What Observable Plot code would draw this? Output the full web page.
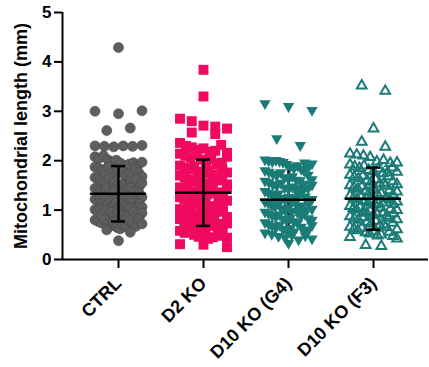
<!DOCTYPE html>
<html><head><meta charset="utf-8">
<script src="https://cdn.jsdelivr.net/npm/d3@7"></script>
<script src="https://cdn.jsdelivr.net/npm/@observablehq/plot@0.6"></script>
<style>
body{margin:0;background:#fff}
svg{font-family:"Liberation Sans",Arial,sans-serif;font-weight:bold}
</style>
</head><body><div id="chart"></div>
<script>
const categories = ["CTRL", "D2 KO", "D10 KO (G4)", "D10 KO (F3)"];
const ctrl = [4.29, 3.00, 2.95, 3.01, 2.61, 2.66, 2.30, 2.29, 2.28, 2.30, 2.29, 2.31, 2.08, 2.05, 2.10, 2.02,
  1.98, 2.01, 1.95, 1.90, 1.93, 1.87, 1.85, 1.96, 1.82, 1.79, 1.88, 1.75, 1.72, 1.80, 1.77, 1.69, 1.66, 1.74,
  1.63, 1.61, 1.70, 1.58, 1.55, 1.64, 1.52, 1.57, 1.49, 1.47, 1.53, 1.44, 1.50, 1.41, 1.39, 1.46, 1.36, 1.43,
  1.33, 1.30, 1.38, 1.28, 1.35, 1.25, 1.31, 1.22, 1.27, 1.19, 1.24, 1.16, 1.21, 1.13, 1.18, 1.10, 1.14, 1.07,
  1.11, 1.04, 1.08, 1.01, 1.05, 0.98, 1.02, 0.95, 0.99, 0.92, 0.96, 0.89, 0.93, 0.86, 0.90, 0.83, 0.80, 0.87,
  0.77, 0.74, 0.81, 0.71, 0.68, 0.76, 0.65, 0.62, 0.70, 0.60, 0.66, 0.55, 0.38,
  1.91, 1.84, 1.76, 1.68, 1.59, 1.51, 1.45, 1.37, 1.29, 1.23, 1.15, 1.09, 1.03, 0.97, 0.91, 0.85, 0.79, 0.73,
  0.67, 1.97, 1.62, 1.34, 1.12, 0.94, 0.82, 1.48, 1.26, 1.06, 0.72, 1.55];
const d2ko = [3.84, 3.30, 2.85, 2.80, 2.71, 2.69, 2.65, 2.57, 2.54, 2.36, 2.30, 2.27, 2.22, 2.25, 2.18, 2.14,
  2.20, 2.10, 2.06, 2.12, 2.02, 1.98, 2.04, 1.94, 1.90, 1.96, 1.86, 1.82, 1.88, 1.78, 1.74, 1.80, 1.70, 1.66,
  1.72, 1.62, 1.58, 1.64, 1.54, 1.50, 1.56, 1.46, 1.42, 1.48, 1.38, 1.34, 1.40, 1.30, 1.26, 1.32, 1.22, 1.18,
  1.24, 1.14, 1.10, 1.16, 1.06, 1.02, 1.08, 0.98, 0.94, 1.00, 0.90, 0.86, 0.92, 0.82, 0.78, 0.84, 0.74, 0.70,
  0.76, 0.66, 0.62, 0.68, 0.58, 0.54, 0.60, 0.50, 0.46, 0.52, 0.42, 0.45, 0.31, 0.30, 0.25, 1.45, 1.20, 0.88,
  1.60, 1.35,
  2.32, 2.16, 1.92, 1.84, 1.68, 1.52, 1.36, 1.28, 1.12, 0.96, 0.80, 0.72, 0.64, 0.56, 0.48, 0.44, 1.04, 1.76,
  2.08, 0.97, 1.19, 1.43, 0.73, 0.86];
const g4 = [3.16, 3.10, 3.02, 2.45, 2.31, 2.02, 2.00, 1.98, 2.01, 1.99, 1.97, 1.93, 1.88, 1.85, 1.90, 1.80,
  1.77, 1.83, 1.73, 1.70, 1.76, 1.66, 1.63, 1.68, 1.59, 1.56, 1.61, 1.52, 1.49, 1.55, 1.45, 1.42, 1.47, 1.38,
  1.35, 1.40, 1.31, 1.28, 1.33, 1.24, 1.21, 1.26, 1.17, 1.14, 1.19, 1.10, 1.07, 1.12, 1.03, 1.00, 1.05, 0.96,
  0.93, 0.98, 0.89, 0.86, 0.91, 0.82, 0.79, 0.84, 0.75, 0.72, 0.77, 0.68, 0.65, 0.70, 0.61, 0.58, 0.63, 0.54,
  0.51, 0.56, 0.47, 0.44, 0.49, 0.40, 0.33, 1.15, 1.25, 0.95, 1.30, 1.08, 0.88, 1.45, 1.60,
  1.96, 1.87, 1.79, 1.71, 1.62, 1.53, 1.44, 1.36, 1.27, 1.18, 1.09, 1.01, 0.92, 0.83, 0.74, 0.66, 0.57, 0.48,
  0.42, 1.94, 1.51, 1.13, 0.80, 0.60, 1.22, 1.02, 0.69];
const f3 = [3.52, 3.41, 2.65, 2.38, 2.28, 2.14, 2.12, 2.10, 2.07, 1.98, 2.01, 1.95, 1.92, 1.88, 1.85, 1.90,
  1.81, 1.78, 1.84, 1.74, 1.71, 1.76, 1.67, 1.64, 1.69, 1.60, 1.57, 1.62, 1.53, 1.50, 1.55, 1.46, 1.43, 1.48,
  1.39, 1.36, 1.41, 1.32, 1.29, 1.34, 1.25, 1.22, 1.27, 1.18, 1.15, 1.20, 1.11, 1.08, 1.13, 1.04, 1.01, 1.06,
  0.97, 0.94, 0.99, 0.90, 0.87, 0.92, 0.83, 0.80, 0.85, 0.76, 0.73, 0.78, 0.69, 0.66, 0.71, 0.62, 0.59, 0.64,
  0.55, 0.52, 0.57, 0.48, 0.45, 0.50, 0.29, 0.27, 1.05, 0.95, 1.15, 0.88, 1.24,
  1.96, 1.86, 1.77, 1.68, 1.58, 1.49, 1.40, 1.31, 1.21, 1.12, 1.02, 0.93, 0.84, 0.74, 0.65, 0.56, 0.47, 0.42,
  1.52, 1.17, 0.81, 0.61, 1.37, 1.00];
const means = [1.33, 1.35, 1.21, 1.23];
const sds = [0.56, 0.67, 0.60, 0.63];
const yTicks = [0, 1, 2, 3, 4, 5];
const yLabel = "Mitochondrial length (mm)";

// deterministic scatter layout (GraphPad-like column scatter)
const PX = 85;            // pixels per category step
const HALF = 23.5;        // half width of a column, px
function layout(values, ci) {
  const sorted = values.map((v, k) => ({v, k})).sort((a, b) => b.v - a.v);
  const bins = [];
  for (const p of sorted) {
    const last = bins[bins.length - 1];
    if (last && last[0].v - p.v <= 0.201) last.push(p); else bins.push([p]);
  }
  const rows = [];
  for (const bin of bins) {
    const n = bin.length;
    const sp = n > 1 ? Math.min(HALF, 2 * HALF / (n - 1)) : 0;
    bin.sort((a, b) => a.k - b.k);
    bin.forEach((p, j) => rows.push({cat: ci, value: p.v, x: ci + (j - (n - 1) / 2) * sp / PX}));
  }
  return rows;
}
const groups = [ctrl, d2ko, g4, f3];
const pts = groups.map((g, i) => layout(g, i));
const stats = categories.map((c, i) => ({i, mean: means[i], lo: means[i] - sds[i], hi: means[i] + sds[i]}));

const x0 = -(118 - 62) / PX, x1 = x0 + 366 / PX;
const teal = "#1a7b77";
const half = 28 / PX, cap = 7 / PX;

const chart = Plot.plot({
  width: 429, height: 367,
  marginLeft: 62, marginRight: 1, marginTop: 12, marginBottom: 108,
  style: {fontFamily: "Liberation Sans, Arial, sans-serif", fontWeight: "bold", color: "#000"},
  x: {domain: [x0, x1]},
  y: {domain: [0, 5]},
  marks: [
    // G4 whisker (hidden under its points, as in the original)
    Plot.ruleX(stats, {filter: d => d.i === 2, x: "i", y1: "lo", y2: "hi", strokeWidth: 2.5}),
    Plot.dot(pts[0], {x: "x", y: "value", r: 5, fill: "#5e5e5e", stroke: "#484848", strokeWidth: 0.6}),
    Plot.dot(pts[1], {x: "x", y: "value", symbol: "square", r: 5.6, fill: "#ef0a5f"}),
    Plot.dot(pts[2], {x: "x", y: "value", symbol: "triangle", rotate: 180, r: 4.2, fill: teal}),
    Plot.dot(pts[3], {x: "x", y: "value", symbol: "triangle", r: 3.6, fill: "none", stroke: teal, strokeWidth: 2}),
    // mean lines
    Plot.ruleY(stats, {y: "mean", x1: d => d.i - half, x2: d => d.i + half, strokeWidth: 2.5}),
    // SD whiskers and caps
    Plot.ruleX(stats, {filter: d => d.i !== 2, x: "i", y1: "lo", y2: "hi", strokeWidth: 2.5}),
    Plot.ruleY(stats, {filter: d => d.i !== 2, y: "hi", x1: d => d.i - cap, x2: d => d.i + cap, strokeWidth: 2.5}),
    Plot.ruleY(stats, {filter: d => d.i !== 2, y: "lo", x1: d => d.i - cap, x2: d => d.i + cap, strokeWidth: 2.5}),
    // axes
    Plot.ruleX([x0], {y1: 0, y2: 5, strokeWidth: 2}),
    Plot.ruleY([0], {strokeWidth: 2}),
    Plot.axisY({ticks: yTicks, tickFormat: d => String(d), tickSize: 8, tickPadding: 3, fontSize: 17,
      strokeWidth: 2, label: null}),
    Plot.text([yLabel], {frameAnchor: "left", rotate: -90, dx: -41, fontSize: 18, fontWeight: "bold",
      textAnchor: "middle", lineAnchor: "middle", fill: "#000"}),
    Plot.axisX({ticks: [0, 1, 2, 3], tickFormat: i => categories[i], tickSize: 9, tickPadding: 12,
      tickRotate: -45, fontSize: 18, strokeWidth: 2, label: null})
  ]
});
document.getElementById("chart").appendChild(chart);
</script>
</body></html>
